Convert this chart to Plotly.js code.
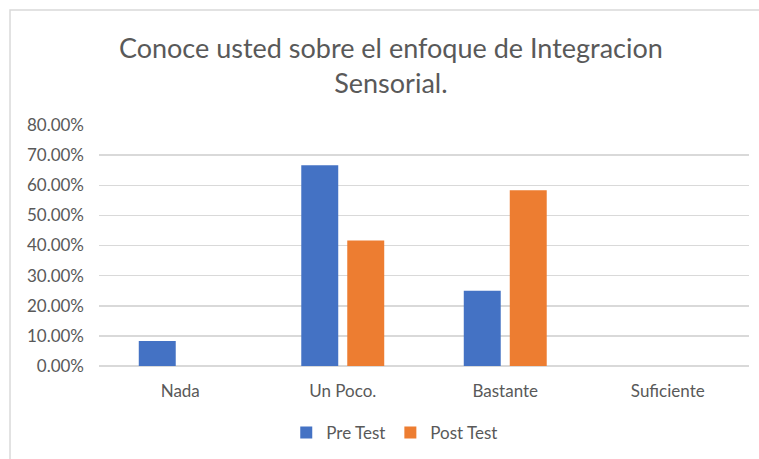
<!DOCTYPE html>
<html>
<head>
<meta charset="utf-8">
<script src="https://cdn.plot.ly/plotly-3.0.1.min.js"></script>
<style>html,body{margin:0;padding:0;background:#fff;}#chart{width:759px;height:459px;}</style>
</head>
<body>
<div id="chart"></div>
<script>
const categories = ["Nada", "Un Poco.", "Bastante", "Suficiente"];
const preTest = [0.0833, 0.6667, 0.25, 0];
const postTest = [0, 0.4167, 0.5833, 0];
const seriesNames = ["Pre Test", "Post Test"];
const titleText = "Conoce usted sobre el enfoque de Integracion<br>Sensorial.";

const font = "Lato, 'Open Sans', sans-serif";
const textColor = "#595959";

const data = [
  {type: "bar", name: seriesNames[0], x: categories, y: preTest, marker: {color: "#4472C4"}, hoverinfo: "x+y"},
  {type: "bar", name: seriesNames[1], x: categories, y: postTest, marker: {color: "#ED7D31"}, hoverinfo: "x+y"}
];

const layout = {
  width: 759, height: 459,
  margin: {l: 99, r: 10, t: 125, b: 93, autoexpand: false},
  paper_bgcolor: "#fff", plot_bgcolor: "#fff",
  font: {family: font, color: textColor, size: 16},
  title: {text: titleText, font: {family: font, size: 27, color: textColor}, x: 0.515, xref: "container", xanchor: "center", y: 0.874, yanchor: "middle"},
  barmode: "group", bargap: 0.434, bargroupgap: 0.196,
  xaxis: {automargin: false, showgrid: false, showline: false, zeroline: false, ticks: "", ticklabelstandoff: 13, tickfont: {family: font, size: 17, color: textColor}, fixedrange: true},
  yaxis: {automargin: false, range: [0, 0.8], dtick: 0.1, tickformat: ".2%", showgrid: true, gridcolor: "#d9d9d9", gridwidth: 1.5, zeroline: true, zerolinecolor: "#d9d9d9", zerolinewidth: 1.5, showline: false, ticks: "", ticklabelstandoff: 14, tickfont: {family: font, size: 17, color: textColor}, fixedrange: true},
  legend: {orientation: "h", x: 0.455, xanchor: "center", y: -0.278, yanchor: "middle", font: {family: font, size: 17, color: textColor}, itemwidth: 30, traceorder: "normal"},
  shapes: [
    {type: "rect", xref: "paper", yref: "paper", x0: -0.1369, x1: 1.2, y0: -0.6, y1: 1.477, line: {color: "#d9d9d9", width: 1.5}, fillcolor: "rgba(0,0,0,0)", layer: "below"}
  ],
  showlegend: true
};

Plotly.newPlot("chart", data, layout, {displayModeBar: false, staticPlot: true});
</script>
</body>
</html>
